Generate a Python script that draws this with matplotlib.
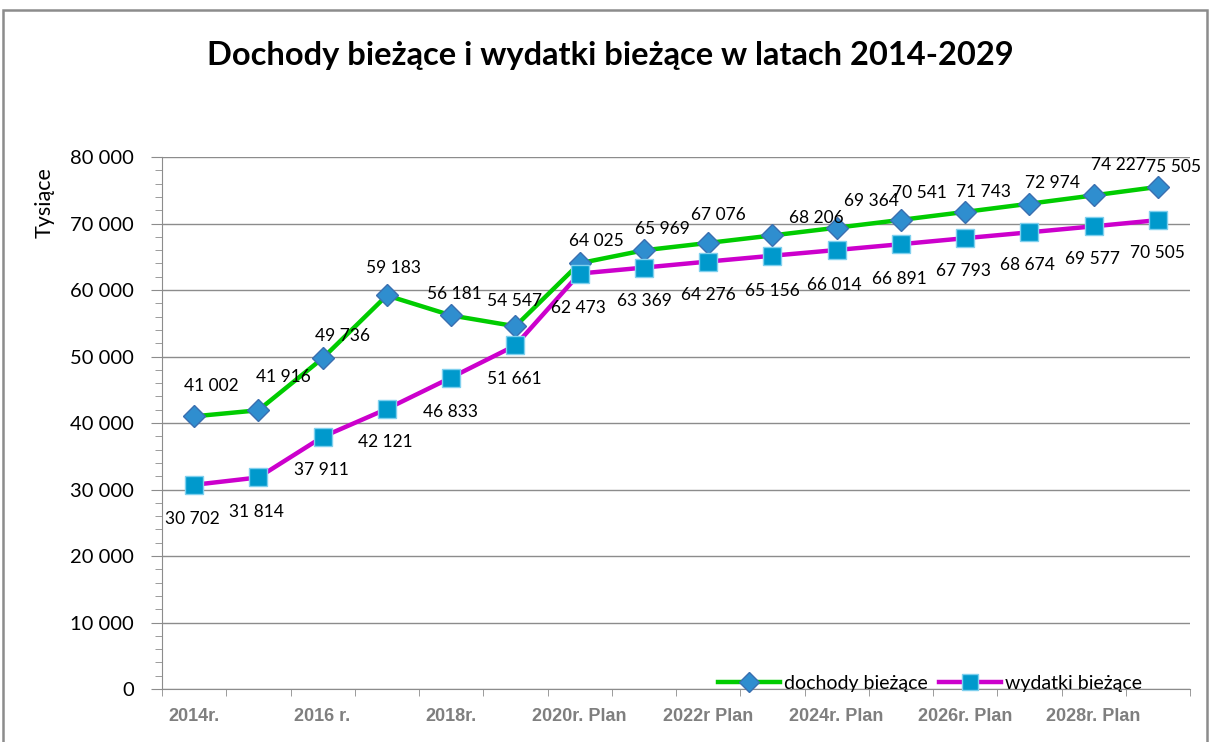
import matplotlib.pyplot as plt
from matplotlib.patches import Rectangle
from matplotlib.ticker import FuncFormatter, MultipleLocator, FixedLocator

# data
years = list(range(2014, 2030))
tick_labels = ['2014r.', '2016 r.', '2018r.', '2020r. Plan',
               '2022r Plan', '2024r. Plan', '2026r. Plan', '2028r. Plan']
dochody = [41002, 41916, 49736, 59183, 56181, 54547, 64025, 65969,
           67076, 68206, 69364, 70541, 71743, 72974, 74227, 75505]
wydatki = [30702, 31814, 37911, 42121, 46833, 51661, 62473, 63369,
           64276, 65156, 66014, 66891, 67793, 68674, 69577, 70505]

# label offsets in pixels (layout only)
doch_off = [(17, 30), (25, 33), (20, 22), (7, 27), (3, 21), (-1, 25),
            (17, 22), (19, 21), (10, 28), (44, 17), (35, 27), (19, 27),
            (18, 20), (23, 21), (25, 30), (16, 20)]
wyd_off = [(-2, -34), (-2, -35), (-1, -33), (-2, -33), (-1, -34), (-1, -34),
           (-1, -34), (1, -33), (0, -33), (0, -35), (-2, -35), (-2, -35),
           (-2, -33), (-2, -33), (-1, -33), (0, -33)]

W, H = 1210, 742
fig = plt.figure(figsize=(W / 100, H / 100), dpi=100)
fig.patches.append(Rectangle((3 / W, -0.1), 1204 / W, 1 - 10 / H + 0.1,
                             transform=fig.transFigure, fill=False,
                             edgecolor='#8c8c8c', linewidth=1.8))

ax = fig.add_axes([162 / W, 1 - 689 / H, (1190 - 162) / W, (689 - 157) / H])
x = list(range(len(years)))

ax.plot(x, dochody, color='#00cc00', lw=3.2, marker='D', markersize=11.5,
        markerfacecolor='#2f8ecf', markeredgecolor='#3a6fb0', markeredgewidth=1,
        label='dochody bieżące', zorder=3)
ax.plot(x, wydatki, color='#cc00cc', lw=3.2, marker='s', markersize=13,
        markerfacecolor='#0099cc', markeredgecolor='#7fd0ee', markeredgewidth=1,
        label='wydatki bieżące', zorder=3)

lab_font = dict(family='Lato', fontsize=12.5, color='black')
for i in x:
    ax.annotate(f'{dochody[i]:,}'.replace(',', ' '), (i, dochody[i]),
                xytext=doch_off[i], textcoords='offset pixels',
                ha='center', va='center', zorder=5, **lab_font)
    ax.annotate(f'{wydatki[i]:,}'.replace(',', ' '), (i, wydatki[i]),
                xytext=wyd_off[i], textcoords='offset pixels',
                ha='center', va='center', zorder=5, **lab_font)

ax.set_xlim(-0.5, len(years) - 0.5)
ax.set_ylim(0, 80000)

ax.yaxis.set_major_locator(MultipleLocator(10000))
ax.yaxis.set_minor_locator(MultipleLocator(2000))
ax.yaxis.set_major_formatter(FuncFormatter(lambda v, p: f'{int(v):,}'.replace(',', ' ')))
ax.tick_params(axis='y', which='major', length=8, color='#8c8c8c',
               labelsize=14.5, pad=12)
ax.tick_params(axis='y', which='minor', length=5, color='#8c8c8c')
for t in ax.get_yticklabels():
    t.set_family('Lato')

ax.xaxis.set_major_locator(FixedLocator(x[::2]))
ax.set_xticklabels(tick_labels, family='Liberation Sans', fontweight='bold',
                   fontsize=13, color='#7f7f7f')
ax.xaxis.set_minor_locator(FixedLocator([i - 0.5 for i in range(len(years) + 1)]))
ax.tick_params(axis='x', which='major', length=0, pad=14)
ax.tick_params(axis='x', which='minor', length=5, color='#8c8c8c')

ax.grid(axis='y', color='#8c8c8c', lw=1)
ax.set_axisbelow(True)
for s in ['top', 'right']:
    ax.spines[s].set_visible(False)
for s in ['left', 'bottom']:
    ax.spines[s].set_color('#8c8c8c')

ax.set_ylabel('Tysiące', family='Lato', fontsize=15.5)
ax.yaxis.set_label_coords(-0.104, 0.915)

fig.text(610 / W, 1 - 55 / H, 'Dochody bieżące i wydatki bieżące w latach 2014-2029',
         ha='center', va='center', family='Lato', fontweight='bold', fontsize=23.5)

leg = fig.legend(loc='center', bbox_to_anchor=(930 / W, 1 - 683 / H), ncol=2,
                 frameon=False, prop={'family': 'Lato', 'size': 14},
                 handlelength=3.2, handletextpad=0.2, columnspacing=0.6,
                 markerscale=0.85)

fig.savefig('out.png', dpi=100)
